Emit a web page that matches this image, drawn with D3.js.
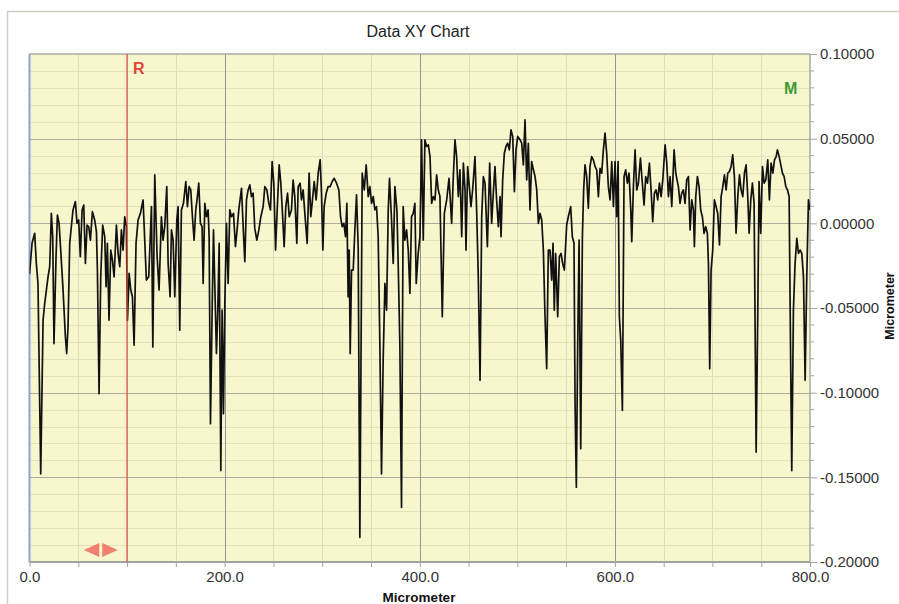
<html>
<script src='https://d3js.org/d3.v7.min.js'></script>
<style>
  body {margin: 0; background: white;}
  text {font-family: 'Liberation Sans', Arial, sans-serif;}
</style>
<body onload='init()'>
<svg width=899 height=604></svg>
<script>
// positions along the profile (micrometer)
var positions = [0,2.6,5.3,7.0,8.7,11.5,13.9,15.6,17.3,19.0,20.7,22.4,23.8,25.1,27.2,28.6,30.3,32.0,34.4,36.8,38.1,39.5,41.2,42.9,44.6,47.0,48.7,50.4,52.1,53.9,55.6,57.3,59.0,60.7,62.4,64.5,66.8,68.6,69.6,71.3,73.0,75.0,77.1,78.5,79.8,81.5,83.3,85.0,86.7,89.1,90.8,92.5,94.2,95.9,97.6,99.3,100.4,102.1,103.8,105.5,107.2,109.2,111.3,113.7,116.4,118.1,119.8,122.2,125.0,126.4,128.4,130.8,132.8,
  135.2,136.9,138.6,140.7,142.1,144.1,145.5,147.2,148.9,151.0,152.3,154.0,155.7,157.8,160.2,161.9,163.6,165.3,167.0,168.7,170.4,172.1,173.5,175.2,176.9,178.0,179.7,181.4,183.1,184.1,185.5,187.2,188.6,189.9,191.6,193.0,194.4,196.1,197.4,198.8,200.2,201.9,203.6,205.3,207.0,209.1,211.1,212.8,214.5,217.3,219.0,220.7,222.4,224.1,225.8,227.5,229.2,230.9,233.0,235.1,237.1,239.5,241.2,243.3,245.3,247.0,248.7,250.4,252.2,253.9,255.9,257.6,259.3,261.0,262.7,264.5,266.2,
  268.5,270.2,271.9,274.0,275.4,277.4,278.8,280.5,282.2,284.6,286.6,288.3,289.7,291.8,293.8,295.9,297.9,299.3,300.7,302.0,304.1,306.1,308.2,310.2,312.3,314.7,317.1,318.8,320.5,322.2,323.9,325.3,326.6,327.7,328.7,330.1,331.8,333.5,335.2,336.9,338.6,341.0,343.1,345.1,347.2,348.9,350.6,352.3,354.0,355.7,357.4,359.1,360.8,362.5,364.3,366.0,367.7,369.0,371.1,372.8,374.5,376.6,377.9,379.6,381.3,383.0,384.7,386.5,388.2,389.9,391.6,393.3,395.0,396.4,398.4,
  400.2,401.9,403.6,405.3,407.0,408.8,410.5,412.2,413.9,415.6,417.3,419.0,420.7,423.1,425.2,427.6,430.0,432.7,434.4,436.1,437.8,439.5,441.2,443.0,444.7,446.4,447.4,449.1,450.8,452.5,454.2,456.6,458.3,460.0,461.8,463.5,465.2,466.9,469.3,471.7,473.7,475.4,477.1,478.8,480.6,482.3,483.3,485.0,486.7,488.4,490.1,491.8,493.5,495.3,497.0,498.7,500.4,502.8,504.5,506.2,507.9,509.6,511.3,513.0,514.7,516.5,518.2,519.9,521.6,523.3,525.0,526.7,528.4,530.1,
  531.8,533.5,535.2,536.6,537.9,539.3,541.4,543.1,544.8,546.5,548.2,550.6,552.3,554.7,556.4,558.1,559.2,560.5,561.9,563.3,565.0,566.7,568.0,569.4,571.1,572.8,574.5,576.2,577.9,579.7,581.4,583.1,584.8,586.5,588.2,589.9,591.6,593.3,595.1,596.8,598.5,600.2,601.9,603.3,604.6,606.0,607.7,609.4,611.1,612.8,614.5,616.3,617.3,619.0,620.7,622.4,624.1,626.2,627.9,629.9,631.6,633.4,635.4,637.1,638.8,640.5,642.2,643.9,645.7,647.4,649.1,651.5,653.2,654.9,656.6,658.3,660.7,662.4,
  665.1,666.8,668.5,670.2,671.9,673.6,675.4,677.1,678.8,680.5,681.5,682.9,684.6,686.3,688.0,689.7,691.4,693.1,694.8,695.9,697.2,698.6,700.3,702.0,703.7,705.4,707.2,708.9,710.6,712.3,714.0,715.7,717.4,719.1,720.8,722.5,724.2,726.0,727.7,729.4,731.1,732.8,734.5,736.2,737.6,739.3,741.0,742.7,744.8,746.5,747.8,749.5,751.3,753.0,754.7,756.7,758.4,760.1,761.9,763.6,765.3,766.6,768.4,770.1,771.8,773.5,775.2,776.9,778.6,780.0,781.3,783.0,784.7,786.5,788.2,789.9,791.6,793.3,795.0,796.7,798.4,800.0];

// profile height (micrometer)
var heights = [-0.0300,-0.0118,-0.0059,-0.0237,-0.0355,-0.1479,-0.0572,-0.0473,-0.0394,-0.0316,-0.0256,0.0059,-0.0079,-0.0710,-0.0197,0.0049,0.0000,-0.0158,-0.0394,-0.0671,-0.0769,-0.0611,-0.0118,-0.0020,0.0079,0.0128,0.0000,0.0020,-0.0197,0.0079,0.0108,-0.0237,-0.0010,-0.0020,-0.0099,0.0069,0.0020,-0.0049,-0.0276,-0.1006,-0.0316,-0.0010,-0.0079,-0.0375,-0.0118,-0.0572,-0.0158,-0.0217,-0.0316,-0.0010,-0.0178,-0.0256,-0.0039,-0.0158,0.0039,-0.0020,-0.0572,-0.0296,-0.0394,-0.0434,-0.0720,-0.0118,0.0020,0.0059,0.0138,-0.0099,-0.0335,-0.0316,0.0099,-0.0730,0.0286,-0.0197,-0.0394,
  0.0039,-0.0099,-0.0020,0.0217,-0.0237,-0.0434,-0.0039,-0.0099,-0.0434,0.0020,0.0099,-0.0631,0.0079,0.0118,0.0247,0.0099,0.0217,0.0197,0.0039,-0.0099,0.0079,0.0158,0.0237,0.0000,-0.0020,-0.0355,0.0118,0.0039,0.0079,-0.0079,-0.1183,-0.0513,-0.0039,-0.0355,-0.0769,-0.0513,-0.0118,-0.1460,-0.0513,-0.1124,-0.0473,0.0000,-0.0355,0.0079,0.0039,0.0059,-0.0138,-0.0039,0.0079,0.0207,-0.0020,-0.0227,0.0138,0.0197,0.0227,0.0158,0.0178,-0.0030,-0.0099,-0.0039,0.0039,0.0099,0.0217,0.0197,0.0118,0.0079,0.0365,0.0237,-0.0158,0.0079,0.0345,0.0237,0.0059,-0.0138,0.0099,0.0178,0.0039,
  0.0079,0.0256,0.0158,-0.0118,0.0217,0.0237,0.0138,0.0197,0.0059,-0.0118,0.0296,0.0039,0.0118,0.0247,0.0138,0.0296,0.0375,0.0178,-0.0158,0.0099,0.0178,0.0217,0.0217,0.0247,0.0266,0.0237,0.0197,0.0039,-0.0020,0.0000,-0.0079,0.0118,-0.0434,-0.0158,-0.0769,-0.0276,-0.0276,-0.0039,0.0168,-0.0138,-0.1854,0.0296,0.0197,0.0345,0.0158,0.0217,0.0118,0.0158,0.0079,0.0099,-0.0079,-0.0710,-0.1479,-0.0809,-0.0355,-0.0513,0.0079,0.0266,0.0020,-0.0237,0.0217,0.0079,-0.0237,-0.0710,-0.1677,0.0099,-0.0099,-0.0039,-0.0158,-0.0414,0.0039,0.0059,0.0118,-0.0355,-0.0178,
  -0.0079,0.0493,-0.0099,0.0493,0.0454,0.0464,0.0394,0.0118,0.0158,0.0138,0.0286,0.0197,0.0158,-0.0552,0.0059,0.0138,0.0266,0.0000,0.0276,0.0493,0.0394,0.0158,0.0316,-0.0079,0.0355,0.0197,-0.0158,0.0335,0.0217,0.0099,0.0197,0.0394,0.0079,-0.0316,-0.0927,0.0039,0.0276,0.0237,-0.0138,0.0355,0.0000,0.0178,0.0335,0.0138,-0.0020,0.0158,-0.0079,0.0256,0.0414,0.0454,0.0473,0.0434,0.0552,0.0513,0.0187,0.0434,0.0513,0.0493,0.0473,0.0345,0.0611,0.0256,0.0473,0.0079,0.0365,0.0316,0.0276,0.0197,0.0000,0.0059,0.0020,-0.0158,-0.0552,-0.0858,
  -0.0158,-0.0158,-0.0335,-0.0118,-0.0513,-0.0178,-0.0552,-0.0197,-0.0178,-0.0237,-0.0276,-0.0010,0.0039,0.0099,-0.0079,-0.0118,-0.1065,-0.1558,-0.0710,-0.0099,-0.1331,-0.0079,0.0197,0.0345,0.0276,0.0089,0.0335,0.0394,0.0375,0.0335,0.0316,0.0158,0.0325,0.0296,0.0434,0.0533,0.0414,0.0217,0.0138,0.0365,0.0099,0.0365,0.0039,0.0365,-0.0552,-0.0690,-0.1105,0.0276,0.0316,0.0237,0.0296,0.0079,-0.0108,0.0217,0.0434,0.0197,0.0237,0.0385,0.0256,0.0108,0.0276,0.0237,0.0355,0.0197,0.0010,0.0178,0.0197,0.0138,0.0237,0.0158,0.0256,0.0464,0.0355,0.0158,0.0276,0.0099,0.0434,0.0296,
  0.0217,0.0118,0.0178,0.0197,0.0118,0.0256,0.0276,-0.0039,0.0138,0.0079,-0.0138,0.0158,0.0276,0.0217,0.0079,0.0039,-0.0059,-0.0020,-0.0059,-0.0237,-0.0858,-0.0276,-0.0158,0.0138,0.0099,0.0059,-0.0128,0.0158,0.0217,0.0286,0.0197,0.0296,0.0306,0.0335,0.0404,0.0276,-0.0059,0.0158,0.0286,0.0197,0.0158,0.0296,0.0345,0.0158,-0.0059,0.0138,0.0237,0.0118,-0.1351,-0.0513,0.0247,-0.0059,0.0335,0.0237,0.0256,0.0375,0.0138,0.0355,0.0296,0.0375,0.0394,0.0434,0.0394,0.0345,0.0296,0.0276,0.0217,0.0197,0.0158,-0.0710,-0.1460,-0.0513,-0.0237,-0.0089,-0.0178,-0.0158,-0.0178,-0.0316,-0.0927,-0.0316,0.0138,0.0079];

var xTickLabels = [0, 200, 400, 600, 800];
var yTickLabels = [0.1, 0.05, 0, -0.05, -0.1, -0.15, -0.2];
var cursorR = 100;     // red cursor position
var arrowPos = 73;     // position of the drag handle

function init() {
  var svg = d3.select("svg");
  var left = 29.5, right = 810, top = 54, bottom = 562;

  var x = d3.scaleLinear().domain([0, 800]).range([left, right]);
  var y = d3.scaleLinear().domain([-0.2, 0.1]).range([bottom, top]);

  // outer frame
  svg.append("rect").attr("x", 7.5).attr("y", 11.5).attr("width", 900).attr("height", 600)
    .attr("fill", "white").attr("stroke", "#cfcfc6").attr("stroke-width", 1.5);

  // plot background
  svg.append("rect").attr("x", left).attr("y", top).attr("width", right - left).attr("height", bottom - top)
    .attr("fill", "#f8f6cc");

  // minor grid
  var yMinor = d3.range(-0.19, 0.1, 0.01).filter(function(v){ return Math.abs(Math.round(v * 100) % 5) != 0; });
  svg.append("g").selectAll("line").data(yMinor).enter().append("line")
    .attr("x1", left).attr("x2", right)
    .attr("y1", function(d){ return Math.round(y(d)) + 0.5; }).attr("y2", function(d){ return Math.round(y(d)) + 0.5; })
    .attr("stroke", "#e4e2be").attr("stroke-width", 1);
  var xMinor = d3.range(50, 800, 50).filter(function(v){ return v % 200 != 0; });
  svg.append("g").selectAll("line").data(xMinor).enter().append("line")
    .attr("x1", function(d){ return Math.round(x(d)) + 0.5; }).attr("x2", function(d){ return Math.round(x(d)) + 0.5; })
    .attr("y1", top).attr("y2", bottom)
    .attr("stroke", "#dedcbc").attr("stroke-width", 1);

  // major grid
  svg.append("g").selectAll("line").data(yTickLabels.slice(1, -1)).enter().append("line")
    .attr("x1", left).attr("x2", right)
    .attr("y1", function(d){ return Math.round(y(d)) + 0.5; }).attr("y2", function(d){ return Math.round(y(d)) + 0.5; })
    .attr("stroke", "#adac9c").attr("stroke-width", 1);
  svg.append("g").selectAll("line").data([200, 400, 600]).enter().append("line")
    .attr("x1", function(d){ return Math.round(x(d)) + 0.5; }).attr("x2", function(d){ return Math.round(x(d)) + 0.5; })
    .attr("y1", top).attr("y2", bottom)
    .attr("stroke", "#96968f").attr("stroke-width", 1);

  // plot border
  svg.append("line").attr("x1", left).attr("x2", right).attr("y1", top).attr("y2", top)
    .attr("stroke", "#a9a9a4").attr("stroke-width", 1.5);
  svg.append("line").attr("x1", right).attr("x2", right).attr("y1", top).attr("y2", bottom)
    .attr("stroke", "#a9a9a4").attr("stroke-width", 1.5);
  svg.append("line").attr("x1", left).attr("x2", right).attr("y1", bottom).attr("y2", bottom)
    .attr("stroke", "#a3a3a0").attr("stroke-width", 2);
  svg.append("line").attr("x1", left).attr("x2", left).attr("y1", top).attr("y2", bottom)
    .attr("stroke", "#8ea3d4").attr("stroke-width", 2);

  // right axis
  var yAxis = d3.axisRight(y).tickValues(yTickLabels).tickSize(7).tickPadding(3);
  var ya = svg.append("g").attr("transform", "translate(" + right + ",0)").call(yAxis);
  ya.select(".domain").remove();
  ya.selectAll("line").attr("stroke", "#a3a3a0");
  ya.selectAll("text").attr("fill", "#333").style("font-size", "15px")
    .text(function(d){ return d3.format(".5f")(d).replace("−", "-"); });
  svg.append("g").selectAll("line").data(yMinor).enter().append("line")
    .attr("x1", right).attr("x2", right + 4)
    .attr("y1", function(d){ return y(d); }).attr("y2", function(d){ return y(d); })
    .attr("stroke", "#a3a3a0");

  // bottom axis
  var xAxis = d3.axisBottom(x).tickValues(d3.range(0, 801, 50)).tickSize(5).tickPadding(4)
    .tickFormat(function(d){ return xTickLabels.indexOf(d) >= 0 ? d3.format(".1f")(d) : ""; });
  var xa = svg.append("g").attr("transform", "translate(0," + bottom + ")").call(xAxis);
  xa.select(".domain").remove();
  xa.selectAll("line").attr("stroke", "#a3a3a0");
  xa.selectAll("text").attr("fill", "#333").style("font-size", "15px");

  // profile line
  svg.append("clipPath").attr("id", "clip").append("rect")
    .attr("x", left).attr("y", top).attr("width", right - left).attr("height", bottom - top);
  var line = d3.line()
    .x(function(d, i){ return x(positions[i]); })
    .y(function(d){ return y(d); });
  svg.append("path").datum(heights)
    .attr("clip-path", "url(#clip)")
    .attr("d", line)
    .attr("fill", "none").attr("stroke", "#111").attr("stroke-width", 1.7)
    .attr("stroke-linejoin", "round");

  // R cursor
  svg.append("line").attr("x1", x(cursorR)).attr("x2", x(cursorR)).attr("y1", top).attr("y2", bottom)
    .attr("stroke", "#dd4a3c").attr("stroke-width", 1.2);
  svg.append("text").attr("x", x(cursorR) + 6).attr("y", 74).text("R")
    .attr("fill", "#e0443a").style("font-size", "16px").style("font-weight", "bold");
  svg.append("text").attr("x", 784).attr("y", 94).text("M")
    .attr("fill", "#3d9a35").style("font-size", "16px").style("font-weight", "bold");

  // drag handle arrows
  var ax = x(arrowPos);
  svg.append("path").attr("d", "M" + (ax - 17) + ",550 L" + (ax - 1.5) + ",543 L" + (ax - 1.5) + ",557 Z")
    .attr("fill", "#f08070");
  svg.append("path").attr("d", "M" + (ax + 17) + ",550 L" + (ax + 1.5) + ",543 L" + (ax + 1.5) + ",557 Z")
    .attr("fill", "#f08070");

  // titles
  svg.append("text").attr("x", 418).attr("y", 37).attr("text-anchor", "middle")
    .text("Data XY Chart").attr("fill", "#222").style("font-size", "16px");
  svg.append("text").attr("x", 419).attr("y", 602).attr("text-anchor", "middle")
    .text("Micrometer").attr("fill", "#111").style("font-size", "13.5px").style("font-weight", "bold");
  svg.append("text").attr("transform", "translate(894,306) rotate(-90)").attr("text-anchor", "middle")
    .text("Micrometer").attr("fill", "#111").style("font-size", "12.5px").style("font-weight", "bold");
}
</script>
</body>
</html>
